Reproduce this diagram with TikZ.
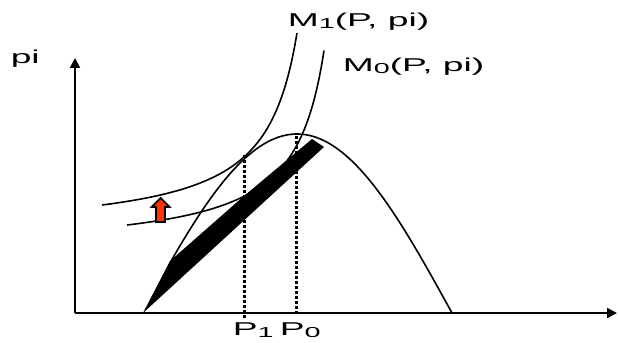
\documentclass[tikz,border=0pt]{standalone}
\usepackage{fontspec}
\setmainfont{Liberation Sans}
\usetikzlibrary{arrows.meta}

\definecolor{shiftred}{RGB}{255,51,0}
\newcommand{\lsub}[1]{\raisebox{-1pt}{\fontsize{7.2}{7}\selectfont #1}}

\begin{document}
\begin{tikzpicture}[x=0.5pt, y=-0.5pt,
    axis/.style={line width=1pt, -{Triangle[length=5pt,width=5pt]}},
    curve/.style={line width=0.8pt},
    guide/.style={line width=1.5pt, dash pattern=on 1.5pt off 1pt},
    lbl/.style={font=\fontsize{9.3}{10}\selectfont, inner sep=0pt, xscale=2, anchor=base west}]
    \useasboundingbox (0,0) rectangle (619,342);

    % Axes
    \coordinate (O) at (75,313);
    \coordinate (ytip) at (75,58);
    \coordinate (xtip) at (617,313);
    \draw[axis] (O) -- (ytip);
    \draw[axis] (O) -- (xtip);
    \node[lbl] (pilbl) at (10,63) {pi};

    % Hump curve
    \draw[curve] plot[domain=171:452, samples=80] (\x, {134+179*(1-cos((\x-297)*0.5806))});

    % Curve M1 (shifted up)
    \draw[curve] plot[domain=102:297, samples=80] (\x, {234.1-6634/(330-\x)});

    % Curve M0
    \draw[curve] plot[domain=127:324, samples=80] (\x, {252.2-6190/(354.7-\x)});

    % Black band
    \coordinate (apex) at (143,313);
    \fill (apex) -- (170,261) -- (244,196) -- (312,139) -- (324,147) -- cycle;

    % Dotted guides down to P1 and P0
    \coordinate (p1top) at (244,155);
    \coordinate (p1bot) at (244,320);
    \coordinate (p0top) at (296,136);
    \coordinate (p0bot) at (296,313);
    \draw[guide] (p1top) -- (p1bot);
    \draw[guide] (p0top) -- (p0bot);

    % Red shift arrow
    \filldraw[fill=shiftred, draw=black, line width=0.9pt]
        (156,222) -- (165,222) -- (165,207) -- (169.5,207) -- (160.7,198)
        -- (151.7,207) -- (156,207) -- cycle;

    % Labels
    \node[lbl] (m1lbl) at (287,27) {M\lsub{1}(P, pi)};
    \node[lbl] (m0lbl) at (342,72) {M\lsub{0}(P, pi)};
    \node[lbl] (plbl) at (232,335) {P\lsub{1}\,P\lsub{0}};
\end{tikzpicture}
\end{document}
